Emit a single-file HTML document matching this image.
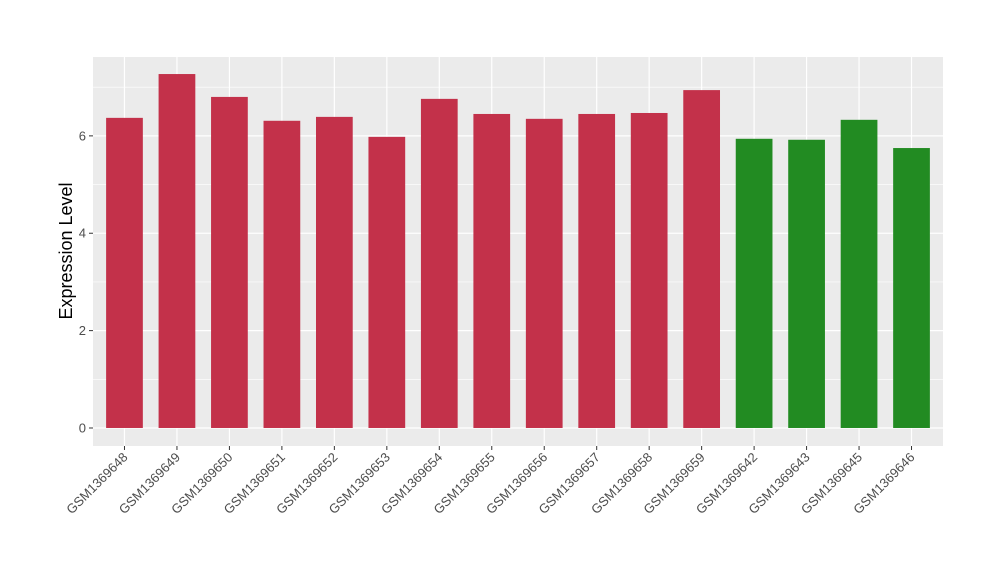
<!DOCTYPE html>
<html><head><meta charset="utf-8"><style>
body{margin:0;background:#fff;width:1000px;height:580px;overflow:hidden}
text{font-family:"Liberation Sans",Arial,sans-serif}
</style></head><body>
<svg id="chart" width="1000" height="580" xmlns="http://www.w3.org/2000/svg">
<rect x="93" y="57" width="850" height="389" fill="#EBEBEB"/>
<g id="grid"></g><g id="bars"></g><g id="axes"></g>
<text transform="translate(72,251) rotate(-90)" text-anchor="middle" font-size="18" fill="#000">Expression Level</text>
</svg>
<script>
const categories=["GSM1369648","GSM1369649","GSM1369650","GSM1369651","GSM1369652","GSM1369653","GSM1369654","GSM1369655","GSM1369656","GSM1369657","GSM1369658","GSM1369659","GSM1369642","GSM1369643","GSM1369645","GSM1369646"];
const values=[6.37,7.27,6.80,6.31,6.39,5.98,6.76,6.45,6.35,6.45,6.47,6.94,5.94,5.92,6.33,5.75];
const groups=["a","a","a","a","a","a","a","a","a","a","a","a","b","b","b","b"];
const yTicks=[0,2,4,6];
const colors={a:"#C3314A",b:"#228B22"};
const NS="http://www.w3.org/2000/svg";
const L=93,R=943,T=57,B=446,yMin=-0.37,yMax=7.62;
const step=(R-L)/(categories.length+0.2);
const x=i=>L+(i+0.6)*step;
const y=v=>B-(v-yMin)/(yMax-yMin)*(B-T);
function mk(p,tag,a){const e=document.createElementNS(NS,tag);for(const k in a)e.setAttribute(k,a[k]);p.appendChild(e);return e;}
const grid=document.getElementById('grid'),bars=document.getElementById('bars'),axes=document.getElementById('axes');
for(let j=0;j<yTicks.length;j++){
 const m=yTicks[j]+1;
 if(y(m)>T){const g=mk(grid,'line',{x1:L,x2:R,y1:y(m),y2:y(m),stroke:"#fff","stroke-width":0.6});
 }
 const l=mk(grid,'line',{x1:L,x2:R,y1:y(yTicks[j]),y2:y(yTicks[j]),stroke:"#fff","stroke-width":1.2});
 
 const tk=mk(axes,'line',{x1:L-4,x2:L,y1:y(yTicks[j]),y2:y(yTicks[j]),stroke:"#333","stroke-width":1});
 
 const t=mk(axes,'text',{x:L-7,y:y(yTicks[j])+4.5,"text-anchor":"end","font-size":13,fill:"#4D4D4D"});
 t.textContent=yTicks[j];
 
}
for(let i=0;i<categories.length;i++){
 const g=mk(grid,'line',{x1:x(i),x2:x(i),y1:T,y2:B,stroke:"#fff","stroke-width":1.2});
 
 const w=step*0.7;
 const r=mk(bars,'rect',{x:x(i)-w/2,y:y(values[i]),width:w,height:y(0)-y(values[i]),fill:colors[groups[i]]});
 
 const tk=mk(axes,'line',{x1:x(i),x2:x(i),y1:B,y2:B+4,stroke:"#333","stroke-width":1});
 
 const t=mk(axes,'text',{transform:`translate(${x(i)+4},${B+12}) rotate(-45)`,"text-anchor":"end","font-size":13,fill:"#4D4D4D"});
 t.textContent=categories[i];
 
}
</script>
</body></html>
